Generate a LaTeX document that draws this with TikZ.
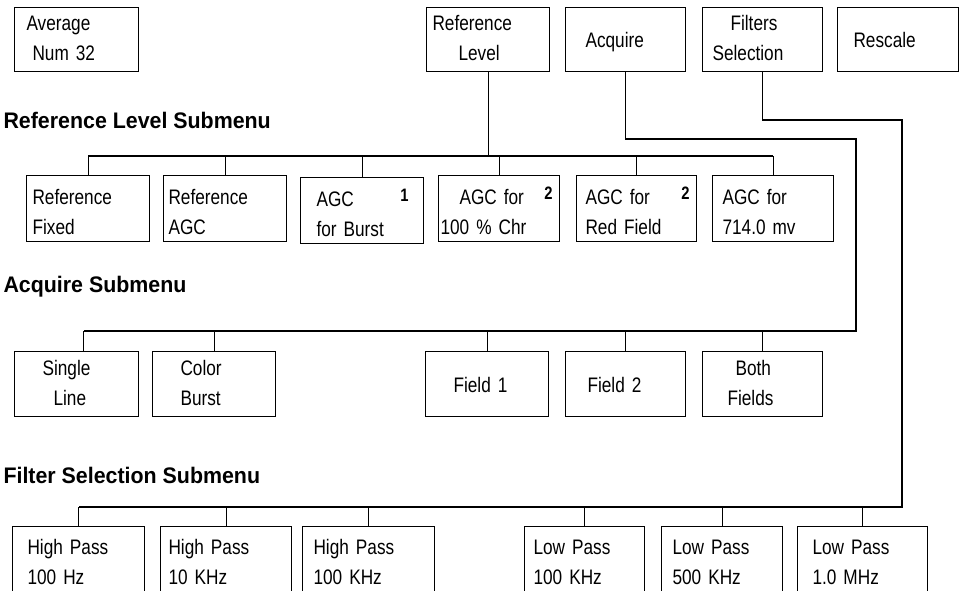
\documentclass[tikz,border=0pt]{standalone}
\usepackage{fontspec}
\setmainfont{Liberation Sans}[FakeStretch=0.82]
\newfontfamily\headfont{Liberation Sans}[FakeStretch=0.95]

\begin{document}
\begin{tikzpicture}[x=1pt, y=-1pt, line width=1.1pt,
    menubox/.style={draw, anchor=north west, inner sep=0pt, align=left,
        text width=#1pt, minimum width=#1pt, font=\fontsize{21}{30}\selectfont},
    menubox/.default=122,
    toprow/.style={minimum height=64pt, text height=14pt, text depth=32pt},
    refrow/.style={minimum height=66pt, text height=14pt, text depth=22pt},
    acqrow/.style={minimum height=65pt, text height=14pt, text depth=31pt},
    filtrow/.style={minimum height=80pt, text height=14pt, text depth=38pt},
    oneline/.style={text height=#1pt, text depth=0pt},
    head/.style={anchor=base west, inner sep=0pt, font=\headfont\bfseries\fontsize{22.5}{22.5}\selectfont},
    tag/.style={anchor=base east, inner sep=0pt, font=\bfseries\fontsize{18}{18}\selectfont}]
    \useasboundingbox (0,0) rectangle (959,591);
    \clip (0,0) rectangle (959,591);

    % Main menu:
    \node[menubox=124, toprow] (avg) at (14,7) {\hspace*{12pt}Average\\\hspace*{18pt}Num 32};
    \node[menubox=123, toprow] (reflev) at (426,7) {\hspace*{6pt}Reference\\\hspace*{32pt}Level};
    \node[menubox=120, toprow, oneline=16] (acq) at (565,7) {\hspace*{20pt}Acquire};
    \node[menubox=120, toprow] (filt) at (702,7) {\hspace*{28pt}Filters\\\hspace*{10pt}Selection};
    \node[menubox=121, toprow, oneline=16] (resc) at (837,7) {\hspace*{16pt}Rescale};

    % Reference Level submenu:
    \node[head] (reftitle) at (3,129) {Reference Level Submenu};
    \node[menubox=123, refrow] (rfix) at (26,175) {\hspace*{6pt}Reference\\\hspace*{6pt}Fixed};
    \node[menubox=123, refrow] (ragc) at (163,175) {\hspace*{5pt}Reference\\\hspace*{5pt}AGC};
    \node[menubox=123, refrow] (aburst) at (300,177) {\hspace*{16pt}AGC\\\hspace*{16pt}for Burst};
    \node[menubox=121, refrow] (achr) at (438,175) {\hspace*{21pt}AGC for\\\hspace*{2pt}100 \% Chr};
    \node[menubox=120, refrow] (ared) at (576,175) {\hspace*{9pt}AGC for\\\hspace*{9pt}Red Field};
    \node[menubox=121, refrow] (a714) at (712,175) {\hspace*{10pt}AGC for\\\hspace*{10pt}714.0 mv};
    \node[tag] (tagburst) at ([xshift=-15pt,yshift=-24pt]aburst.north east) {1};
    \node[tag] (tagchr) at ([xshift=-7pt,yshift=-25pt]achr.north east) {2};
    \node[tag] (tagred) at ([xshift=-7pt,yshift=-25pt]ared.north east) {2};

    % Acquire submenu:
    \node[head] (acqtitle) at (3,292) {Acquire Submenu};
    \node[menubox=124, acqrow] (single) at (14,351) {\hspace*{28pt}Single\\\hspace*{39pt}Line};
    \node[menubox=123, acqrow] (color) at (152,351) {\hspace*{28pt}Color\\\hspace*{28pt}Burst};
    \node[menubox=123, acqrow, oneline=17] (field1) at (425,351) {\hspace*{28pt}Field 1};
    \node[menubox=120, acqrow, oneline=17] (field2) at (565,351) {\hspace*{22pt}Field 2};
    \node[menubox=120, acqrow] (both) at (702,351) {\hspace*{33pt}Both\\\hspace*{25pt}Fields};

    % Filter Selection submenu:
    \node[head] (filttitle) at (3,483) {Filter Selection Submenu};
    \node[menubox=132, filtrow] (hp100) at (12,526) {\hspace*{15pt}High Pass\\\hspace*{15pt}100 Hz};
    \node[menubox=131, filtrow] (hp10k) at (160,526) {\hspace*{8pt}High Pass\\\hspace*{8pt}10 KHz};
    \node[menubox=132, filtrow] (hp100k) at (302,526) {\hspace*{11pt}High Pass\\\hspace*{11pt}100 KHz};
    \node[menubox=120, filtrow] (lp100k) at (524,526) {\hspace*{9pt}Low Pass\\\hspace*{9pt}100 KHz};
    \node[menubox=121, filtrow] (lp500k) at (661,526) {\hspace*{11pt}Low Pass\\\hspace*{11pt}500 KHz};
    \node[menubox=130, filtrow] (lp1m) at (797,526) {\hspace*{15pt}Low Pass\\\hspace*{15pt}1.0 MHz};

    % Buses:
    \coordinate (refbus) at (0,156);
    \coordinate (acqbus) at (0,331);
    \coordinate (filtbus) at (0,507);
    \coordinate (acqturn) at (856,139);
    \coordinate (filtturn) at (902,120);

    \draw (reflev.south) -- (reflev.south |- refbus);
    \draw (rfix.north |- refbus) -- (a714.north |- refbus);
    \foreach \n in {rfix,ragc,aburst,achr,ared,a714}
        \draw (\n.north) -- (\n.north |- refbus);

    \draw (acq.south) |- (acqturn) |- ([xshift=7pt]single.north |- acqbus);
    \draw ([xshift=7pt]single.north) -- ([xshift=7pt]single.north |- acqbus);
    \foreach \n in {color,field1,field2,both}
        \draw (\n.north) -- (\n.north |- acqbus);

    \draw (filt.south) |- (filtturn) |- (hp100.north |- filtbus);
    \foreach \n in {hp100,hp10k,hp100k,lp100k,lp500k,lp1m}
        \draw (\n.north) -- (\n.north |- filtbus);
\end{tikzpicture}
\end{document}
